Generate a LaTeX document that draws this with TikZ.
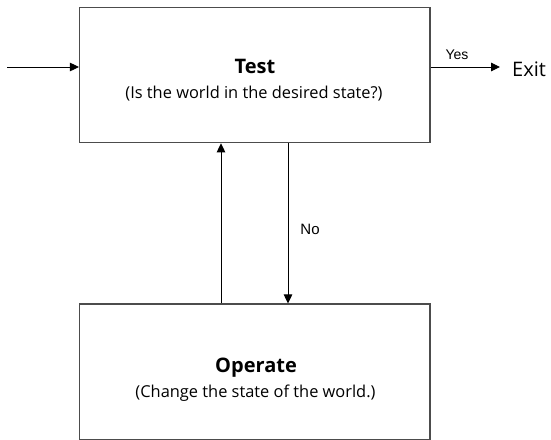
\documentclass[tikz,border=0pt]{standalone}
\usepackage{fontspec}
\setmainfont{Open Sans}
\newfontfamily\labelfont{Liberation Sans}
\usepackage{tikz}
\usetikzlibrary{arrows.meta, positioning}

\begin{document}
\begin{tikzpicture}[
  x=1pt, y=-1pt,
  box/.style={rectangle,draw=black!70,line width=1.1pt,minimum width=350.5pt,minimum height=135.5pt,inner sep=0pt},
  flow/.style={draw,line width=0.9pt,-{Triangle[length=9pt,width=8.5pt]}},
  title/.style={font=\fontsize{20}{24}\selectfont\bfseries,inner sep=0pt,anchor=base},
  sub/.style={font=\fontsize{16.4}{19}\selectfont,inner sep=0pt,anchor=base},
  lbl/.style={font=\labelfont\fontsize{14}{16}\selectfont,inner sep=0pt}
]
\useasboundingbox (0,0) rectangle (551,439);

% Draw boxes
\node[box] (test) at (254.75,75) {};
\node[box] (operate) at (254.75,371.75) {};

% Box texts
\node[title] (testtitle) at (255,73) {Test};
\node[sub] (testsub) at (254,98) {(Is the world in the desired state?)};
\node[title] (optitle) at (256,372) {Operate};
\node[sub] (opsub) at (255.5,397) {(Change the state of the world.)};

% Entry and exit
\coordinate (entry) at (7,67);
\node[anchor=base west,inner sep=0pt,font=\fontsize{20}{24}\selectfont] (exit) at (512,76) {Exit};

\draw[flow] (entry) -- (entry -| test.west);
\draw[flow] (test.east |- entry) -- node[lbl,above=7pt,pos=0.38]{Yes} ([xshift=-12pt]exit.west |- entry);

% Loop between the boxes
\draw[flow] ([xshift=-33.75pt]operate.north) -- ([xshift=-33.75pt]test.south);
\draw[flow] ([xshift=33.25pt]test.south) -- node[lbl,right=12pt,pos=0.54,font=\labelfont\fontsize{15}{17}\selectfont]{No} ([xshift=33.25pt]operate.north);

\end{tikzpicture}
\end{document}
